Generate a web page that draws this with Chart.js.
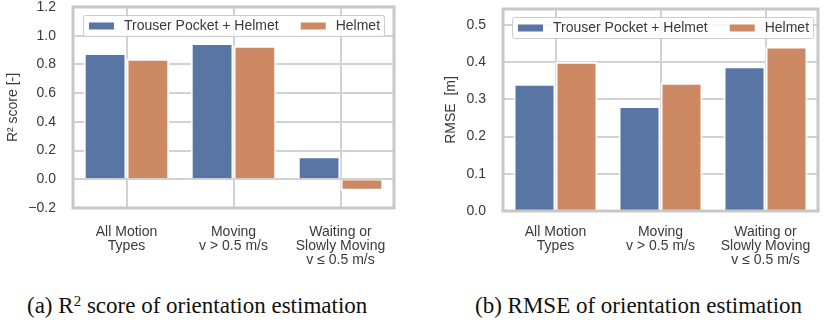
<!DOCTYPE html>
<html>
<head>
<meta charset="utf-8">
<script src="https://cdn.jsdelivr.net/npm/chart.js@4.4.1/dist/chart.umd.min.js"></script>
<style>
  html, body { margin: 0; padding: 0; background: #fff; }
  body { width: 824px; height: 322px; position: relative; overflow: hidden; }
  .box { position: absolute; top: 0; width: 412px; height: 275px; }
  .cap { position: absolute; top: 294px; font-family: "Liberation Serif", "Times New Roman", serif;
         font-size: 23px; line-height: 23px; color: #111; white-space: nowrap; }
  .cap sup { font-size: 15px; vertical-align: 0.45em; line-height: 0; }
</style>
</head>
<body>
<div class="box" style="left:0"><canvas id="r2Chart"></canvas></div>
<div class="box" style="left:412px"><canvas id="rmseChart"></canvas></div>
<div class="cap" style="left:27px">(a) R<sup>2</sup> score of orientation estimation</div>
<div class="cap" style="left:475px">(b) RMSE of orientation estimation</div>
<script>
  // data

  var categories = [
    ['All Motion', 'Types'],
    ['Moving', 'v > 0.5 m/s'],
    ['Waiting or', 'Slowly Moving', 'v \u2264 0.5 m/s']
  ];
  var seriesNames = ['Trouser Pocket + Helmet', 'Helmet'];

  var r2Pocket = [0.88, 0.95, 0.16];
  var r2Helmet = [0.84, 0.93, -0.08];

  var rmsePocket = [0.342, 0.282, 0.389];
  var rmseHelmet = [0.401, 0.345, 0.442];

  // tick values on the y axes
  var r2Ticks = [-0.2, 0, 0.2, 0.4, 0.6, 0.8, 1.0, 1.2];
  var rmseTicks = [0, 0.1, 0.2, 0.3, 0.4, 0.5];

  var colors = ['#5875a4', '#cc8963'];
  var gridColor = '#d2d2d2';

  Chart.defaults.font.family = '"Liberation Sans", Arial, sans-serif';
  Chart.defaults.font.size = 14;
  Chart.defaults.color = '#3a3a3a';

  // grey frame round the plot area (matplotlib style)
  var framePlugin = {
    id: 'frame',
    afterDatasetsDraw: function(chart) {
      var a = chart.chartArea, ctx = chart.ctx;
      ctx.save();
      ctx.strokeStyle = '#c8c8c8';
      ctx.lineWidth = 3;
      ctx.strokeRect(a.left, a.top, a.right - a.left, a.bottom - a.top);
      ctx.restore();
    }
  };

  // legend drawn inside the plot area, one row
  var insideLegend = {
    id: 'insideLegend',
    afterDraw: function(chart, args, opts) {
      var a = chart.chartArea, ctx = chart.ctx;
      var sets = chart.data.datasets;
      ctx.save();
      ctx.font = '14px "Liberation Sans", Arial, sans-serif';
      var patchW = 25, patchH = 7, gap = 10, itemGap = 22, padL = 6, padR = 4, h = opts.height;
      var w = padL + padR;
      sets.forEach(function(ds, i) {
        w += patchW + gap + ctx.measureText(ds.label).width;
        if (i < sets.length - 1) w += itemGap;
      });
      var x = a.left + opts.left, y = a.top + opts.top;
      ctx.fillStyle = 'rgba(255,255,255,0.85)';
      ctx.strokeStyle = '#cccccc';
      ctx.lineWidth = 1;
      ctx.beginPath();
      ctx.roundRect(x + 0.5, y + 0.5, w, h, 2);
      ctx.fill();
      ctx.stroke();
      var cx = x + padL, cy = y + h / 2 + 0.5;
      ctx.textBaseline = 'middle';
      sets.forEach(function(ds) {
        ctx.fillStyle = ds.backgroundColor;
        ctx.fillRect(cx, cy - patchH / 2, patchW, patchH);
        cx += patchW + gap;
        ctx.fillStyle = '#3a3a3a';
        ctx.fillText(ds.label, cx, cy);
        cx += ctx.measureText(ds.label).width + itemGap;
      });
      ctx.restore();
    }
  };

  function fmt(v) {
    var s = (Math.round(v * 10) / 10).toFixed(1);
    return s === '-0.0' ? '0.0' : s.replace('-', '\u2212');
  }

  function makeChart(id, pocket, helmet, yTitle, yMin, yMax, ticks, lay) {
    var config = {
      type: 'bar',
      data: {
        labels: categories,
        datasets: [
          { label: seriesNames[0], data: pocket, backgroundColor: colors[0] },
          { label: seriesNames[1], data: helmet, backgroundColor: colors[1] }
        ]
      },
      options: {
        responsive: true,
        maintainAspectRatio: false,
        animation: false,
        layout: { padding: { top: lay.top, right: lay.right, left: 0, bottom: 0 } },
        datasets: {
          bar: { categoryPercentage: 0.8, barPercentage: 1, borderColor: '#ffffff', borderWidth: 2 }
        },
        plugins: {
          legend: { display: false },
          tooltip: { enabled: false },
          insideLegend: { left: lay.legendLeft, top: 8, height: 21 }
        },
        scales: {
          x: {
            offset: true,
            grid: { offset: false, color: gridColor, lineWidth: 2, drawTicks: false },
            border: { display: false },
            ticks: { padding: lay.xPad, maxRotation: 0, autoSkip: false, font: { size: 14, lineHeight: 1.0 } },
            afterFit: function(s) {
              s.height = 275 - lay.bottom;
              s.paddingLeft = 0;
              s.paddingRight = 0;
            }
          },
          y: {
            min: yMin,
            max: yMax,
            grid: { color: gridColor, lineWidth: 2, drawTicks: false },
            border: { display: false },
            ticks: { padding: 17, callback: fmt },
            afterBuildTicks: function(s) {
              s.ticks = ticks.map(function(v) { return { value: v }; });
            },
            title: { display: true, text: yTitle, font: { size: 14 }, padding: { top: lay.titlePad, bottom: 0 } },
            afterFit: function(s) {
              s.width = lay.left;
              s.paddingTop = 0;
              s.paddingBottom = 0;
            }
          }
        }
      },
      plugins: [framePlugin, insideLegend]
    };
    return new Chart(document.getElementById(id), config);
  }

  // render both panels

  makeChart('r2Chart', r2Pocket, r2Helmet, 'R\u00b2 score [-]', -0.2, 1.2, r2Ticks,
    { left: 73, top: 7, right: 18, bottom: 208, xPad: 17, titlePad: 5, legendLeft: 10 });

  makeChart('rmseChart', rmsePocket, rmseHelmet, 'RMSE  [m]', 0, 0.543, rmseTicks,
    { left: 91, top: 9, right: 6, bottom: 211, xPad: 14, titlePad: 31, legendLeft: 9 });
</script>
</body>
</html>
